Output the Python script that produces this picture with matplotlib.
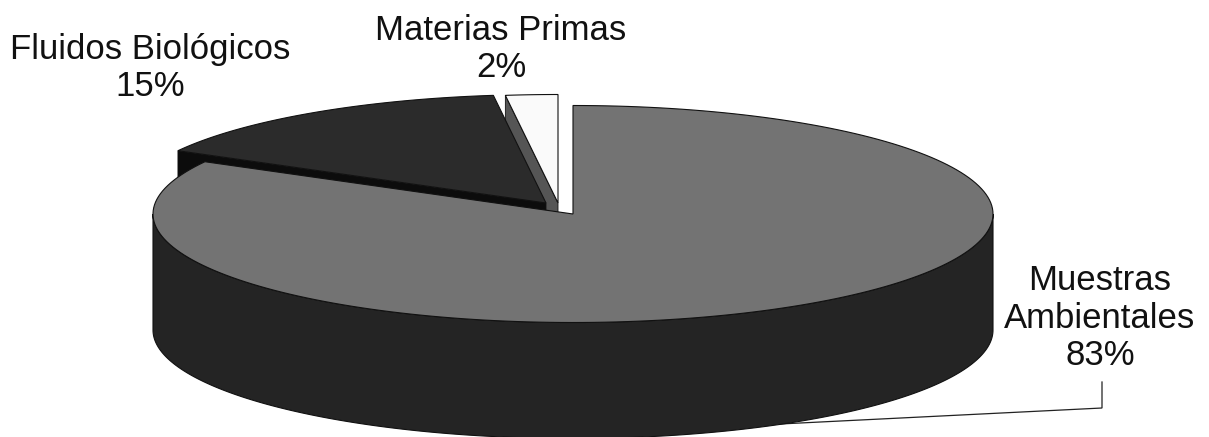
import numpy as np
import matplotlib
matplotlib.use("Agg")
import matplotlib.pyplot as plt

# Data
labels = ["Muestras\nAmbientales\n83%", "Fluidos Biológicos\n15%", "Materias Primas\n2%"]
values = [83, 15, 2]

# Style / geometry (pixels)
top_colors = ["#737373", "#2b2b2b", "#fafafa"]
cut_colors = ["#242424", "#0c0c0c", "#555555"]
wall_colors = ["#242424", "#0c0c0c", "#555555"]
apexes = [(573, 214), (546, 203), (558, 203)]
RX, RY, DEPTH = 420, 108.5, 116
label_pos = [(1100, 318), (150, 68), (501, 49)]
EDGE = "#111111"

plt.rcParams["font.family"] = ["Liberation Sans", "DejaVu Sans"]
fig = plt.figure(figsize=(12.09, 4.37), dpi=100)
ax = fig.add_axes([0, 0, 1, 1])
ax.set_xlim(0, 1209)
ax.set_ylim(437, 0)
ax.axis("off")


def pt(apex, theta, dy=0.0):
    """theta: radians clockwise from the top of the pie."""
    return (apex[0] + RX * np.sin(theta), apex[1] - RY * np.cos(theta) + dy)


def arc(apex, t0, t1, dy=0.0):
    t = np.linspace(t0, t1, 200)
    return np.column_stack([apex[0] + RX * np.sin(t), apex[1] - RY * np.cos(t) + dy])


def draw_slice(i, t0, t1, z):
    a = apexes[i]
    # cut face along the leading edge (clockwise start), seen from the front
    if i > 0:
        p = pt(a, t0)
        q = pt(a, t0, DEPTH)
        face = [a, p, q, (a[0], a[1] + DEPTH)]
        ax.fill(*zip(*face), fc=cut_colors[i], ec=EDGE, lw=0.6, zorder=z)
    # outer wall on the front half
    lo, hi = max(t0, np.pi / 2), min(t1, 3 * np.pi / 2)
    if hi > lo:
        top = arc(a, lo, hi)
        bot = arc(a, hi, lo, DEPTH)
        ax.fill(*np.vstack([top, bot]).T, fc=wall_colors[i], ec=EDGE, lw=0.8, zorder=z)
    # top surface
    poly = np.vstack([[a], arc(a, t0, t1)])
    ax.fill(*poly.T, fc=top_colors[i], ec=EDGE, lw=0.8, zorder=z + 0.5)


fractions = np.array(values, dtype=float) / sum(values)
ends = np.cumsum(fractions) * 2 * np.pi
starts = ends - fractions * 2 * np.pi

# back to front: small slice, medium slice, main slice
for z, i in enumerate([2, 1, 0]):
    draw_slice(i, starts[i], ends[i], z + 1)

for lab, (x, y) in zip(labels, label_pos):
    ax.text(x, y, lab, ha="center", va="center", fontsize=25, color="#111111",
            linespacing=1.18, zorder=10)

# leader line of the main label
ax.plot([780, 1102, 1102], [424, 408, 382], color="#222222", lw=0.9, zorder=0.5,
        solid_joinstyle="miter")

fig.savefig("out.png", dpi=100, facecolor="white")
